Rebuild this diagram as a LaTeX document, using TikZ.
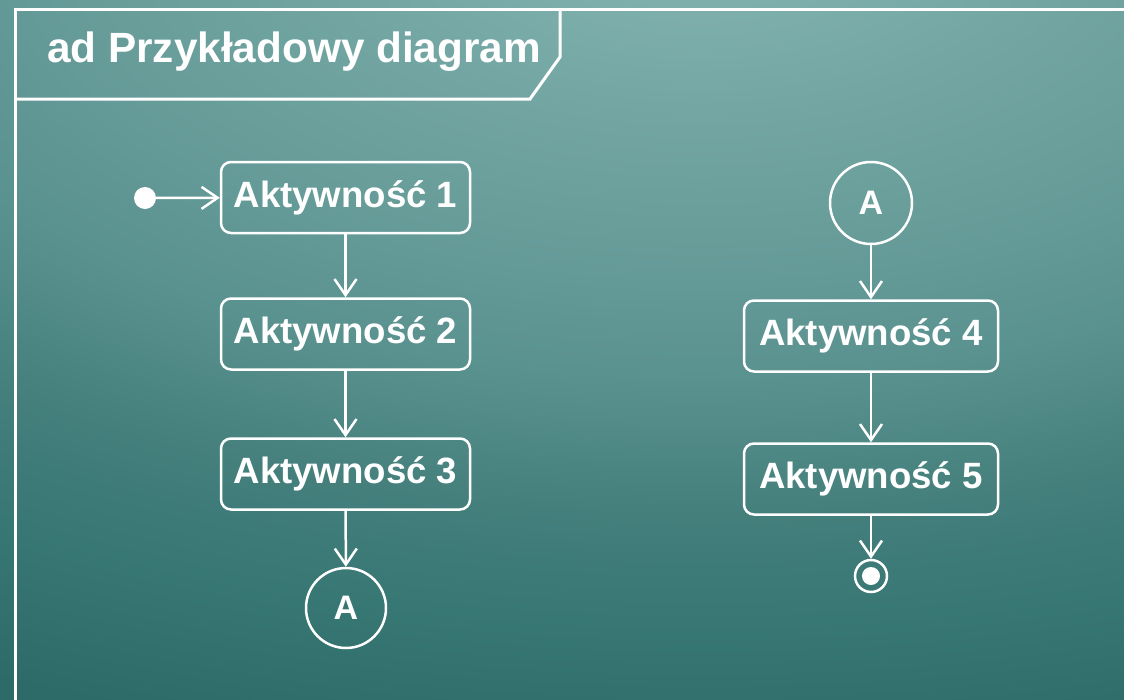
\documentclass[tikz,border=0pt]{standalone}
\usepackage{fontspec}
\setmainfont{Liberation Sans}
\usetikzlibrary{arrows.meta}

\definecolor{bg0}{HTML}{80B1AE}
\definecolor{bg1}{HTML}{7FB0AD}
\definecolor{bg2}{HTML}{689D9A}
\definecolor{bg3}{HTML}{5A928F}
\definecolor{bg4}{HTML}{447F7C}
\definecolor{bg5}{HTML}{377774}
\definecolor{bg6}{HTML}{2D6B68}
% teal backdrop, lightest just above the top edge, darker outwards
\pgfdeclareradialshading{backdrop}{\pgfpointorigin}{%
  color(0bp)=(bg0); color(2.25bp)=(bg1); color(10.1bp)=(bg2); color(14.6bp)=(bg3);
  color(19.1bp)=(bg4); color(22.5bp)=(bg5); color(27bp)=(bg6); color(60bp)=(bg6)}

\tikzset{
  line/.style={draw=white, line width=2.5pt},
  flow/.style={line, -{Straight Barb[length=16pt, width=22pt, line width=2.5pt]}},
  activity/.style={line, rounded corners=10pt, minimum height=71pt,
    inner sep=0pt, text=white, font=\fontsize{36.6}{40}\selectfont\bfseries},
  connector/.style={line, circle, inner sep=0pt, text=white,
    font=\fontsize{34}{38}\selectfont\bfseries},
}

\begin{document}
\begin{tikzpicture}[x=1pt, y=-1pt]
  \useasboundingbox (0,0) rectangle (1124,699);
  \begin{scope}
    \clip (0,0) rectangle (1124,699);
    % circular gradient on a square, squashed vertically into an ellipse
    \begin{scope}[transform canvas={yscale=0.52}]
      \shade[shading=backdrop] (-800,-1653.8) rectangle (2200,1346.2);
    \end{scope}
  \end{scope}

  % diagram frame and its name tab
  \draw[draw=white, line width=3pt] (15,710) -- (15,9) -- (1135,9);
  \draw[draw=white, line width=3pt] (15,99) -- (530,99) -- (560,57) -- (560,9);
  \node[anchor=west, text=white, font=\fontsize{42.3}{46}\selectfont\bfseries, inner sep=0pt]
    (title) at (47,52) {ad Przykładowy diagram};

  % left flow
  \node[circle, fill=white, minimum size=22pt, inner sep=0pt] (init) at (145,198) {};
  \node[activity, minimum width=249pt] (a1) at (345.5,197.5) {Aktywność 1};
  \node[activity, minimum width=249pt] (a2) at (345.5,334) {Aktywność 2};
  \node[activity, minimum width=249pt] (a3) at (345.5,474) {Aktywność 3};
  \node[connector, minimum size=80pt] (cA1) at (346,608) {A};

  % right flow
  \node[connector, minimum size=82pt] (cA2) at (871,203) {A};
  \node[activity, minimum width=254pt] (a4) at (871,336) {Aktywność 4};
  \node[activity, minimum width=254pt] (a5) at (871,479) {Aktywność 5};
  \node[line, circle, minimum size=32pt, inner sep=0pt] (fin) at (871,576) {};
  \fill[white] (fin.center) circle (9);

  \draw[flow] (init) -- (a1);
  \draw[flow] (a1) -- (a2);
  \draw[flow] (a2) -- (a3);
  \draw[flow] (a3) -- (cA1);
  \draw[flow] (cA2) -- (a4);
  \draw[flow] (a4) -- (a5);
  \draw[flow] (a5) -- (fin);
\end{tikzpicture}
\end{document}
